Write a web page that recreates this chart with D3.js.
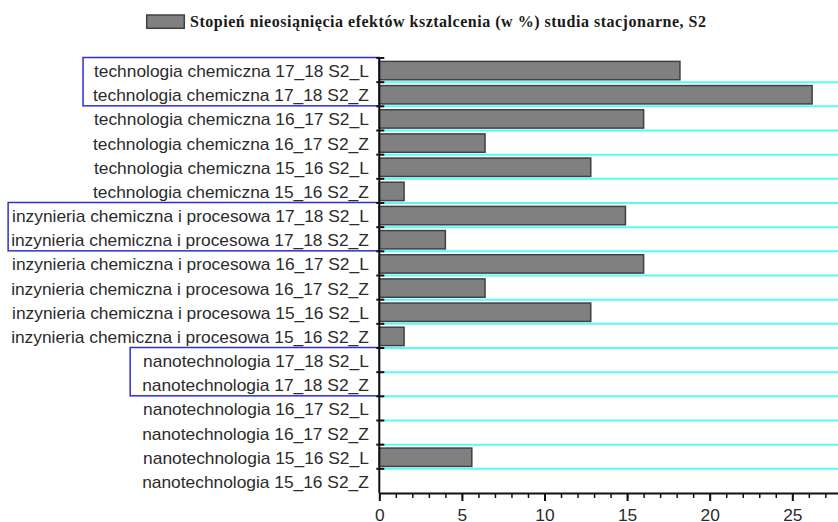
<!DOCTYPE html>
<html><head><meta charset="utf-8">
<script src="https://cdn.jsdelivr.net/npm/d3@7"></script>
<style>body{margin:0;background:#fff} svg{display:block}</style>
</head><body><svg id="c" width="838" height="522"></svg>
<script>
const categories = [
  "technologia chemiczna 17_18 S2_L",
  "technologia chemiczna 17_18 S2_Z",
  "technologia chemiczna 16_17 S2_L",
  "technologia chemiczna 16_17 S2_Z",
  "technologia chemiczna 15_16 S2_L",
  "technologia chemiczna 15_16 S2_Z",
  "inzynieria chemiczna i procesowa 17_18 S2_L",
  "inzynieria chemiczna i procesowa 17_18 S2_Z",
  "inzynieria chemiczna i procesowa 16_17 S2_L",
  "inzynieria chemiczna i procesowa 16_17 S2_Z",
  "inzynieria chemiczna i procesowa 15_16 S2_L",
  "inzynieria chemiczna i procesowa 15_16 S2_Z",
  "nanotechnologia 17_18 S2_L",
  "nanotechnologia 17_18 S2_Z",
  "nanotechnologia 16_17 S2_L",
  "nanotechnologia 16_17 S2_Z",
  "nanotechnologia 15_16 S2_L",
  "nanotechnologia 15_16 S2_Z"
];
const values = [18.2, 26.2, 16.0, 6.4, 12.8, 1.5, 14.9, 4.0, 16.0, 6.4, 12.8, 1.5, 0, 0, 0, 0, 5.6, 0];
const xTicks = [0, 5, 10, 15, 20, 25];
const xMinorTicks = d3.range(0, 29, 1);
const legendLabel = "Stopień nieosiąnięcia efektów ksztalcenia (w %) studia stacjonarne, S2";
// highlighted label groups (index of first and last category)
const groupFirst = [0, 6, 12];
const groupLast = [1, 7, 13];

const svg = d3.select("#c");
const m = {left: 379.3, top: 58, bottom: 493};
const pxPerUnit = 16.52;
const x = d3.scaleLinear().domain([0, 28]).range([m.left, m.left + 28 * pxPerUnit]);
const y = d3.scaleBand().domain(categories).range([m.top, m.bottom]).paddingInner(0.24).paddingOuter(0.12);
const step = y.step();
const boundary = i => m.top + i * step;
const labelFont = "'Liberation Sans', Arial, sans-serif";

// gridlines at category boundaries
svg.append("g").selectAll("line").data(d3.range(1, categories.length)).join("line")
  .attr("x1", m.left).attr("x2", 838)
  .attr("y1", i => boundary(i)).attr("y2", i => boundary(i))
  .attr("stroke", "#55fbfb").attr("stroke-width", 2);

// bars
svg.append("g").selectAll("rect").data(values).join("rect")
  .attr("x", x(0))
  .attr("y", (d, i) => y(categories[i]) + 0.5)
  .attr("width", d => x(d) - x(0))
  .attr("height", y.bandwidth())
  .attr("fill", "#808080")
  .attr("stroke", "#404040")
  .attr("stroke-width", 1.5)
  .attr("display", d => d > 0 ? null : "none");

// category labels
const labels = svg.append("g").selectAll("text").data(categories).join("text")
  .attr("x", m.left - 10.5)
  .attr("y", d => y(d) + y.bandwidth() / 2 + 1)
  .attr("dy", "0.35em")
  .attr("text-anchor", "end")
  .attr("font-family", labelFont)
  .attr("font-size", 17.35)
  .attr("fill", "#2b2b2b")
  .text(d => d);

// blue group boxes
const pads = [10, 3, 12];
groupFirst.forEach((f, k) => {
  const l = groupLast[k];
  const wA = labels.nodes()[f].getComputedTextLength();
  const wB = labels.nodes()[l].getComputedTextLength();
  const left = m.left - 10.5 - Math.max(wA, wB) - pads[k];
  svg.append("rect")
    .attr("x", left).attr("y", boundary(f) - 0.5)
    .attr("width", m.left - left).attr("height", boundary(l + 1) - boundary(f))
    .attr("fill", "none").attr("stroke", "#2f2fd6").attr("stroke-width", 1.5);
});

// y axis line and ticks
svg.append("line").attr("x1", m.left).attr("x2", m.left).attr("y1", m.top).attr("y2", m.bottom)
  .attr("stroke", "#111").attr("stroke-width", 2);
svg.append("g").selectAll("line").data(d3.range(0, categories.length)).join("line")
  .attr("x1", m.left - 3).attr("x2", m.left + 5)
  .attr("y1", i => boundary(i)).attr("y2", i => boundary(i))
  .attr("stroke", "#111").attr("stroke-width", 2);

// x axis
const gx = svg.append("g").attr("transform", `translate(0,${m.bottom})`);
gx.call(d3.axisBottom(x).tickValues(xMinorTicks).tickSize(5).tickSizeOuter(0).tickFormat(""));
gx.select(".domain").attr("stroke", "#111").attr("stroke-width", 2);
gx.selectAll(".tick line").attr("stroke", "#111").attr("stroke-width", 1.5);
const gx2 = svg.append("g").attr("transform", `translate(0,${m.bottom})`);
gx2.call(d3.axisBottom(x).tickValues(xTicks).tickSize(8).tickPadding(8));
gx2.select(".domain").remove();
gx2.selectAll(".tick line").attr("stroke", "#111").attr("stroke-width", 2);
gx2.selectAll(".tick text").attr("font-family", labelFont)
  .attr("font-size", 17.35).attr("fill", "#2b2b2b");

// legend
svg.append("rect").attr("x", 146.7).attr("y", 15).attr("width", 37.6).attr("height", 13.3)
  .attr("fill", "#808080").attr("stroke", "#404040").attr("stroke-width", 1.5);
svg.append("text").attr("x", 190).attr("y", 27)
  .attr("font-family", "'Liberation Serif', 'Times New Roman', serif")
  .attr("font-weight", "bold").attr("font-size", 16)
  .attr("fill", "#1a1a1a")
  .attr("textLength", 516).attr("lengthAdjust", "spacing")
  .text(legendLabel);
</script></body></html>
